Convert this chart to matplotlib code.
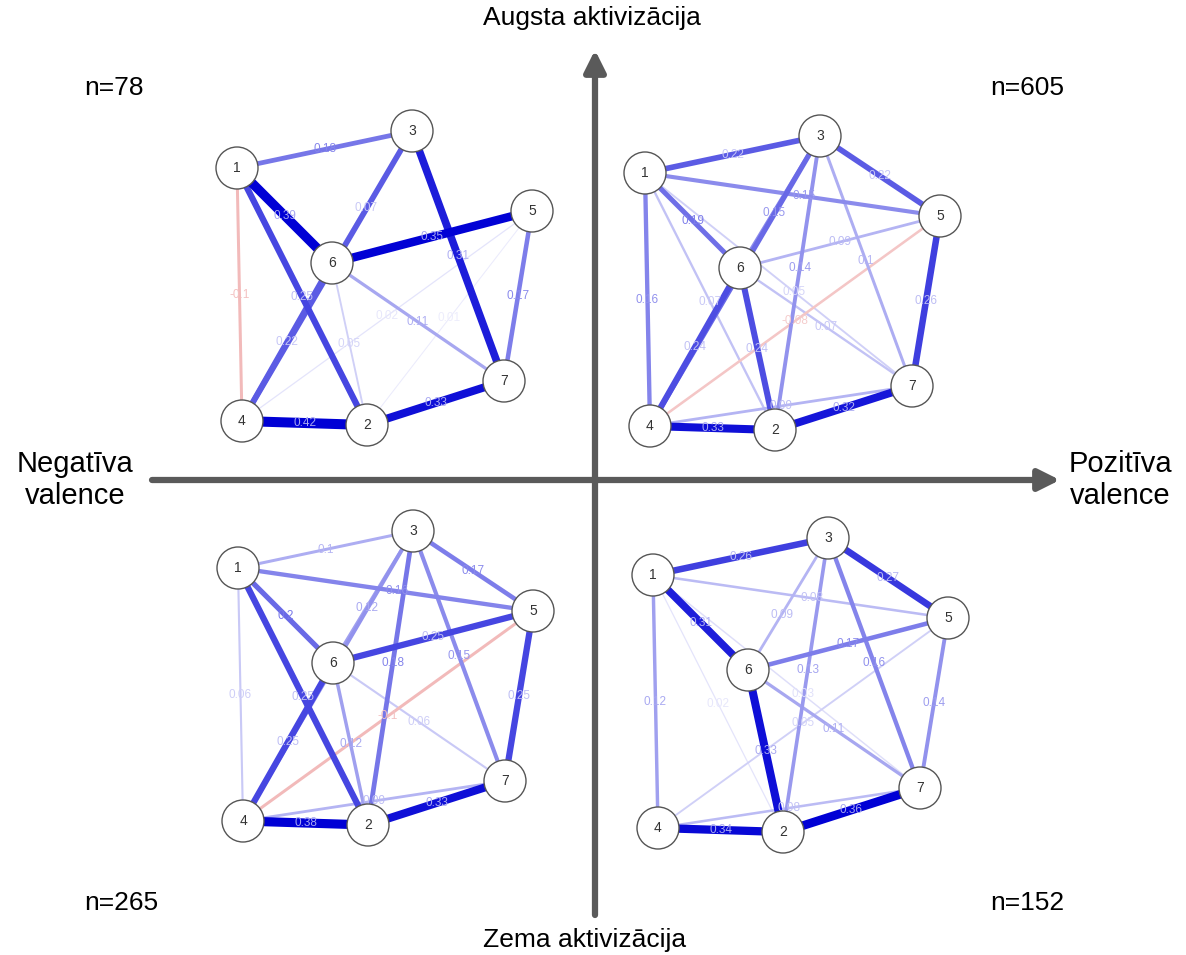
import numpy as np
import matplotlib.pyplot as plt
from matplotlib.patches import Circle

plt.rcParams['font.family'] = ['Liberation Sans', 'DejaVu Sans']

# kopīgais mezglu izkārtojums (pikseļos, attiecībā pret 1. mezglu)
layout = {1: (0, 0), 3: (175, -37), 5: (295, 43), 6: (95, 95),
          7: (267, 213), 4: (5, 253), 2: (130, 257)}

# kvadrantu sākumpunkti
origins = {'tl': (237, 168), 'tr': (645, 173), 'bl': (238, 568), 'br': (653, 575)}
n_labels = {'tl': 'n=78', 'tr': 'n=605', 'bl': 'n=265', 'br': 'n=152'}

# šķautnes: (mezgls, mezgls, svars)
edges_tl = [(1, 3, 0.18), (1, 6, 0.39), (1, 2, 0.25), (1, 4, -0.1),
            (3, 6, 0.07), (3, 7, 0.31), (6, 5, 0.35), (5, 7, 0.17),
            (4, 3, 0.22), (6, 4, 0.22), (6, 2, 0.05), (6, 7, 0.11),
            (4, 5, 0.02), (2, 5, 0.01), (4, 2, 0.42), (2, 7, 0.33)]
edges_tr = [(1, 3, 0.22), (1, 5, 0.15), (1, 6, 0.19), (1, 4, 0.16),
            (1, 2, 0.07), (1, 7, 0.05), (3, 5, 0.22), (3, 6, 0.15),
            (3, 2, 0.14), (3, 7, 0.1), (5, 6, 0.09), (5, 7, 0.26),
            (5, 4, -0.08), (4, 3, 0.2), (6, 4, 0.24), (6, 2, 0.24),
            (6, 7, 0.07), (4, 7, 0.09), (4, 2, 0.33), (2, 7, 0.32)]
edges_bl = [(1, 3, 0.1), (1, 5, 0.16), (1, 6, 0.2), (1, 4, 0.06),
            (1, 2, 0.25), (3, 5, 0.17), (3, 6, 0.12), (3, 2, 0.18),
            (3, 7, 0.15), (6, 5, 0.25), (5, 7, 0.25), (5, 4, -0.1),
            (4, 3, 0.14), (6, 4, 0.25), (6, 2, 0.12), (6, 7, 0.06),
            (4, 7, 0.09), (4, 2, 0.38), (2, 7, 0.33)]
edges_br = [(1, 3, 0.26), (1, 5, 0.08), (1, 6, 0.31), (1, 4, 0.12),
            (1, 2, 0.02), (1, 7, 0.03), (3, 5, 0.27), (3, 6, 0.09),
            (3, 2, 0.13), (3, 7, 0.16), (6, 5, 0.17), (5, 7, 0.14),
            (4, 5, 0.05), (6, 2, 0.33), (6, 7, 0.11), (4, 7, 0.08),
            (4, 2, 0.34), (2, 7, 0.36)]
quadrants = {'tl': edges_tl, 'tr': edges_tr, 'bl': edges_bl, 'br': edges_br}

# etiķešu novietojums uz šķautnes (0 = pirmais mezgls, 1 = otrais)
label_t = {(1, 5): 0.54, (3, 6): 0.58, (3, 2): 0.45, (1, 7): 0.56}

BLUE = np.array([0, 0, 213]) / 255
RED = np.array([215, 40, 40]) / 255
WHITE = np.ones(3)


def edge_strength(w):
    return np.clip(0.05 + 2.7 * abs(w), 0, 1)


def edge_color(w):
    f = edge_strength(w)
    base = BLUE if w > 0 else RED
    return WHITE * (1 - f) + base * f


fig = plt.figure(figsize=(11.86, 9.55), dpi=100)
ax = fig.add_axes([0, 0, 1, 1])
ax.set_xlim(0, 1186)
ax.set_ylim(955, 0)
ax.axis('off')

# asis ar bultām
grey = '#5a5a5a'
ax.annotate('', xy=(1060, 480), xytext=(152, 480),
            arrowprops=dict(arrowstyle='-|>', lw=4.5, color=grey, mutation_scale=32,
                            shrinkA=0, shrinkB=0))
ax.annotate('', xy=(595, 50), xytext=(595, 915),
            arrowprops=dict(arrowstyle='-|>', lw=4.5, color=grey, mutation_scale=32,
                            shrinkA=0, shrinkB=0))

tfs = 19
ax.text(592, 18, 'Augsta aktivizācija', ha='center', va='center', fontsize=tfs)
ax.text(585, 940, 'Zema aktivizācija', ha='center', va='center', fontsize=tfs)
ax.text(75, 480, 'Negatīva\nvalence', ha='center', va='center', fontsize=21,
        linespacing=1.15)
ax.text(1120, 480, 'Pozitīva\nvalence', ha='center', va='center', fontsize=21,
        linespacing=1.15)

n_pos = {'tl': (114, 88), 'tr': (1027, 88), 'bl': (121, 903), 'br': (1027, 903)}

for q, edges in quadrants.items():
    ox, oy = origins[q]
    pos = {k: (ox + x, oy + y) for k, (x, y) in layout.items()}
    for a, b, w in sorted(edges, key=lambda e: abs(e[2])):
        (x1, y1), (x2, y2) = pos[a], pos[b]
        c = edge_color(w)
        lw = (0.8 + 22 * abs(w)) * 0.72
        ax.plot([x1, x2], [y1, y2], color=c, lw=lw, solid_capstyle='butt', zorder=2)
    for a, b, w in edges:
        (x1, y1), (x2, y2) = pos[a], pos[b]
        t = label_t.get((a, b), 0.5)
        c = edge_color(w)
        if edge_strength(w) > 0.6:
            tc = c * 0.35 + WHITE * 0.65
        else:
            tc = c * 0.9 + WHITE * 0.1
        lab = ('%.2f' % w).rstrip('0').rstrip('.') if abs(w) >= 0.1 else '%.2f' % w
        ax.text(x1 + t * (x2 - x1), y1 + t * (y2 - y1), lab, ha='center',
                va='center', fontsize=8.5, color=tc, zorder=3)
    for k, (x, y) in pos.items():
        ax.add_patch(Circle((x, y), 21, facecolor='white', edgecolor='#555555',
                            lw=1.0, zorder=4))
        ax.text(x, y, str(k), ha='center', va='center', fontsize=10,
                color='#333333', zorder=5)
    ax.text(*n_pos[q], n_labels[q], ha='center', va='center', fontsize=tfs)

fig.savefig('out.png', dpi=100)
